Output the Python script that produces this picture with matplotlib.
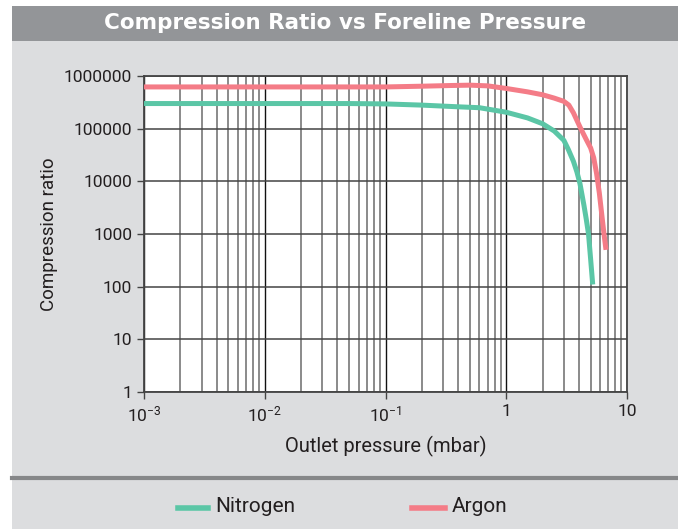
import matplotlib
matplotlib.use("Agg")
import matplotlib.pyplot as plt
from matplotlib.patches import Rectangle
from matplotlib.lines import Line2D
from matplotlib.ticker import LogLocator, FixedLocator, NullFormatter

plt.rcParams["font.family"] = ["Roboto", "DejaVu Sans"]
plt.rcParams["mathtext.fontset"] = "custom"
plt.rcParams["mathtext.rm"] = "Roboto"

# -----------------------
# Data
# -----------------------
n2_pressure = [0.001, 0.01, 0.05, 0.1, 0.2, 0.4, 0.6, 1.0, 1.5, 2.0, 2.5, 3.0,
               3.27, 3.6, 3.85, 4.08, 4.4, 4.6, 4.8, 5.0, 5.2]
n2_ratio = [3.0e5, 3.0e5, 3.0e5, 2.95e5, 2.8e5, 2.6e5, 2.5e5, 2.05e5, 1.6e5, 1.24e5, 9.0e4, 6.0e4,
            4.0e4, 2.4e4, 1.5e4, 9.0e3, 3.5e3, 1.9e3, 1.0e3, 330, 110]

ar_pressure = [0.001, 0.01, 0.1, 0.2, 0.35, 0.5, 0.7, 1.0, 1.5, 2.0, 2.5, 3.0, 3.3,
               3.6, 4.1, 4.6, 5.0, 5.3, 5.6, 5.9, 6.2, 6.45, 6.7]
ar_ratio = [6.2e5, 6.2e5, 6.2e5, 6.4e5, 6.6e5, 6.7e5, 6.5e5, 5.8e5, 5.0e5, 4.4e5, 3.8e5, 3.3e5, 2.8e5,
            2.0e5, 1.05e5, 6.2e4, 4.3e4, 2.8e4, 1.4e4, 6.0e3, 2.2e3, 1.0e3, 500]

x_ticks = [1e-3, 1e-2, 1e-1, 1, 10]
x_labels = [r"$\mathregular{10^{-3}}$", r"$\mathregular{10^{-2}}$", r"$\mathregular{10^{-1}}$", "1", "10"]
y_ticks = [1, 10, 100, 1000, 10000, 100000, 1000000]
y_labels = ["1", "10", "100", "1000", "10000", "100000", "1000000"]

n2_color = "#5bc6a6"
ar_color = "#f47c87"
text_color = "#231f20"

W, H = 678, 529
fig = plt.figure(figsize=(W / 100, H / 100), dpi=100)
fig.patch.set_facecolor("white")

# background panels
fig.patches.append(Rectangle((12 / W, 0), 1, 1 - 41 / H, transform=fig.transFigure,
                             facecolor="#dcdddf", edgecolor="none", zorder=-10))
fig.patches.append(Rectangle((12 / W, 1 - 41 / H), 1, 35 / H, transform=fig.transFigure,
                             facecolor="#939598", edgecolor="none", zorder=-9))
fig.lines.append(Line2D([12 / W, 1], [1 - 478 / H, 1 - 478 / H], transform=fig.transFigure,
                        color="#868789", lw=3))

fig.text(0.5 + 6 / W, 1 - 23 / H, "Compression Ratio vs Foreline Pressure", color="white",
         fontsize=15.5, fontweight="bold", family="DejaVu Sans", ha="center", va="center")

ax = fig.add_axes([144 / W, 1 - 392 / H, (627 - 144) / W, (392 - 76) / H])
ax.set_facecolor("white")
ax.set_xscale("log")
ax.set_yscale("log")
ax.set_xlim(1e-3, 10)
ax.set_ylim(1, 1e6)

ax.plot(n2_pressure, n2_ratio, color=n2_color, lw=3.6, solid_capstyle="butt",
        solid_joinstyle="round", zorder=3)
ax.plot(ar_pressure, ar_ratio, color=ar_color, lw=3.6, solid_capstyle="butt",
        solid_joinstyle="round", zorder=3)

ax.xaxis.set_major_locator(FixedLocator(x_ticks))
ax.set_xticklabels(x_labels)
ax.xaxis.set_minor_locator(LogLocator(base=10, subs=range(2, 10)))
ax.xaxis.set_minor_formatter(NullFormatter())
ax.yaxis.set_major_locator(FixedLocator(y_ticks))
ax.set_yticklabels(y_labels)
ax.yaxis.set_minor_locator(FixedLocator([]))

ax.grid(True, which="major", axis="x", color="#111111", lw=1.0)
ax.grid(True, which="minor", axis="x", color="#777777", lw=1.2)
ax.grid(True, which="major", axis="y", color="#444444", lw=1.1)
ax.set_axisbelow(True)

for side in ["left", "bottom", "right", "top"]:
    ax.spines[side].set_color("#444444")
    ax.spines[side].set_linewidth(1.3)

ax.tick_params(axis="both", which="major", colors="#444444", labelcolor=text_color,
               labelsize=12.5, length=5, width=1)
ax.tick_params(axis="x", which="minor", length=0)
ax.tick_params(axis="x", which="major", pad=4)

ax.set_xlabel("Outlet pressure (mbar)", fontsize=14.5, color=text_color, labelpad=8)
ax.set_ylabel("Compression ratio", fontsize=13.5, color=text_color, labelpad=4)

# legend along the bottom strip
fig.lines.append(Line2D([178 / W, 208 / W], [1 - 508 / H] * 2, transform=fig.transFigure,
                        color=n2_color, lw=4))
fig.text(215 / W, 1 - 507 / H, "Nitrogen", fontsize=15, color=text_color, va="center")
fig.lines.append(Line2D([412 / W, 445 / W], [1 - 508 / H] * 2, transform=fig.transFigure,
                        color=ar_color, lw=4))
fig.text(452 / W, 1 - 507 / H, "Argon", fontsize=15, color=text_color, va="center")

fig.savefig("out.png", dpi=100, facecolor=fig.get_facecolor())
